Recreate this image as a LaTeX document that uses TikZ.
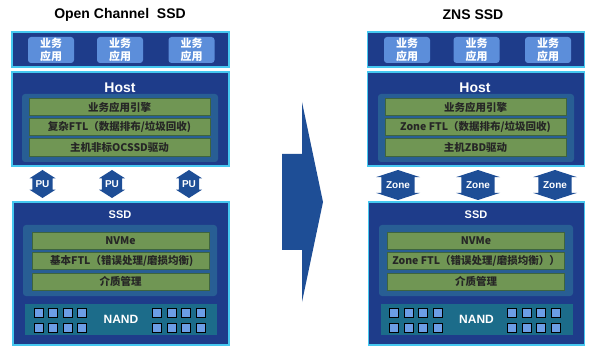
\documentclass[tikz,border=0pt]{standalone}
\usepackage{fontspec}
\setmainfont{Liberation Sans}
\newfontfamily\cjk{Noto Sans CJK SC}
\usetikzlibrary{positioning, shapes.arrows}
\definecolor{deepblue}{RGB}{30,60,138}
\definecolor{edgecyan}{RGB}{70,200,240}
\definecolor{appblue}{RGB}{92,142,218}
\definecolor{innerblue}{RGB}{40,94,148}
\definecolor{nandteal}{RGB}{28,108,138}
\definecolor{bargreen}{RGB}{112,150,84}
\definecolor{baredge}{RGB}{62,100,62}
\definecolor{chipblue}{RGB}{108,158,230}
\definecolor{arrowblue}{RGB}{30,78,150}
\tikzset{panel/.style={draw=edgecyan, line width=1.5pt, fill=deepblue, inner sep=0pt},
app/.style={fill=appblue, rounded corners=3pt, text=white, align=center, minimum width=46, minimum height=26, inner sep=0pt, font=\cjk\bfseries\fontsize{11}{13}\selectfont},
inner/.style={fill=innerblue, rounded corners=3pt, inner sep=0pt},
bar/.style={fill=bargreen, draw=baredge, line width=0.6pt, inner sep=0pt, text=black!85, font=\cjk\bfseries\fontsize{10.5}{12}\selectfont},
hostbar/.style={bar, minimum width=181, minimum height=17.5},
ssdbar/.style={bar, minimum width=177, minimum height=17},
chip/.style={draw=black, line width=1pt, fill=chipblue, minimum size=9, inner sep=0pt},
updown/.style={double arrow, shape border rotate=90, fill=arrowblue, text=white, inner sep=0pt, font=\bfseries\fontsize{10}{12}\selectfont},
head/.style={text=white, font=\bfseries\fontsize{14}{16}\selectfont}
}

\begin{document}
\begin{tikzpicture}[x=1pt,y=-1pt]
\useasboundingbox (0,0) rectangle (600,358);
% Open Channel SSD
\node[font=\bfseries\fontsize{14}{16}\selectfont] (ltitle) at (120,15) {Open Channel\ \ SSD};
\node[panel, minimum width=217, minimum height=35] (lapps) at (120.5,49.5) {};
\node[app] (lapp1) at (51,50) {业务\\应用};
\node[app] (lapp2) at (120,50) {业务\\应用};
\node[app] (lapp3) at (191.5,50) {业务\\应用};
\node[panel, minimum width=217, minimum height=94] (lhost) at (120.5,119) {};
\node[head] (lhosttitle) at (120,88) {Host};
\node[inner, minimum width=196, minimum height=68] (lhostin) at (120,128) {};
\node[hostbar] (lengine) at (119.5,107) {业务应用引擎};
\node[hostbar, below=1.5pt of lengine] (lftl) {复杂FTL（数据排布/垃圾回收)};
\node[hostbar, below=2.5pt of lftl] (ldriver) {主机非标OCSSD驱动};
\node[updown, minimum height=28, minimum width=26, double arrow head extend=2, double arrow tip angle=115] (lpu1) at (42.5,184) {PU};
\node[updown, minimum height=28, minimum width=26, double arrow head extend=2, double arrow tip angle=115] (lpu2) at (112,184) {PU};
\node[updown, minimum height=28, minimum width=26, double arrow head extend=2, double arrow tip angle=115] (lpu3) at (189,184) {PU};
\node[panel, minimum width=216, minimum height=143] (lssd) at (121,273.5) {};
\node[head, font=\bfseries\fontsize{11}{13}\selectfont] (lssdtitle) at (120,215) {SSD};
\node[inner, minimum width=194, minimum height=71] (lssdin) at (120,260.5) {};
\node[ssdbar] (lnvme) at (120.5,240.5) {NVMe};
\node[ssdbar, below=3pt of lnvme] (lbase) {\ 基本FTL（错误处理/磨损均衡)};
\node[ssdbar, below=3pt of lbase] (lmedia) {介质管理};
\node[fill=nandteal, minimum width=192, minimum height=31, inner sep=0pt, text=white, font=\bfseries\fontsize{12}{14}\selectfont] (lnand) at (121,319.5) {NAND};
\foreach \r/\y in {1/312.5, 2/327.5}
  \foreach \c in {0,...,3} {
    \node[chip] (lchipa-\r-\c) at (38.5+14.5*\c,\y) {};
    \node[chip] (lchipb-\r-\c) at (157+14.5*\c,\y) {};
  }

% big arrow
\fill[arrowblue] (282,154) -- (302,154) -- (302,102) -- (323,202) -- (302,302) -- (302,250) -- (282,250) -- cycle;

% ZNS SSD
\begin{scope}[xshift=355]
\node[font=\bfseries\fontsize{14}{16}\selectfont] (rtitle) at (118,15) {ZNS SSD};
\node[panel, minimum width=217, minimum height=35] (rapps) at (121,49.5) {};
\node[app] (rapp1) at (52,50) {业务\\应用};
\node[app] (rapp2) at (121.5,50) {业务\\应用};
\node[app] (rapp3) at (193,50) {业务\\应用};
\node[panel, minimum width=217, minimum height=94] (rhost) at (121,119) {};
\node[head] (rhosttitle) at (120,88) {Host};
\node[inner, minimum width=196, minimum height=68] (rhostin) at (121,128) {};
\node[hostbar] (rengine) at (120.5,107) {业务应用引擎};
\node[hostbar, below=1.5pt of rengine] (rftl) {Zone FTL（数据排布/垃圾回收)};
\node[hostbar, below=2.5pt of rftl] (rdriver) {主机ZBD驱动};
\node[panel, minimum width=216, minimum height=143] (rssd) at (121.5,273.5) {};
\node[head, font=\bfseries\fontsize{11}{13}\selectfont] (rssdtitle) at (121,215) {SSD};
\node[inner, minimum width=194, minimum height=71] (rssdin) at (121,260.5) {};
\node[ssdbar] (rnvme) at (121,240.5) {NVMe};
\node[ssdbar, below=3pt of rnvme] (rbase) {Zone FTL（错误处理/磨损均衡））};
\node[ssdbar, below=3pt of rbase] (rmedia) {介质管理};
\node[fill=nandteal, minimum width=192, minimum height=31, inner sep=0pt, text=white, font=\bfseries\fontsize{12}{14}\selectfont] (rnand) at (121.5,319.5) {NAND};
\foreach \r/\y in {1/312.5, 2/327.5}
  \foreach \c in {0,...,3} {
    \node[chip] (rchipa-\r-\c) at (39+14.5*\c,\y) {};
    \node[chip] (rchipb-\r-\c) at (157+14.5*\c,\y) {};
  }
\end{scope}
\node[updown, minimum height=30, minimum width=44, double arrow head extend=4, double arrow tip angle=144] (rzone1) at (398,185) {Zone};
\node[updown, minimum height=30, minimum width=44, double arrow head extend=4, double arrow tip angle=144] (rzone2) at (478,185) {Zone};
\node[updown, minimum height=30, minimum width=44, double arrow head extend=4, double arrow tip angle=144] (rzone3) at (555,185) {Zone};
\end{tikzpicture}
\end{document}
